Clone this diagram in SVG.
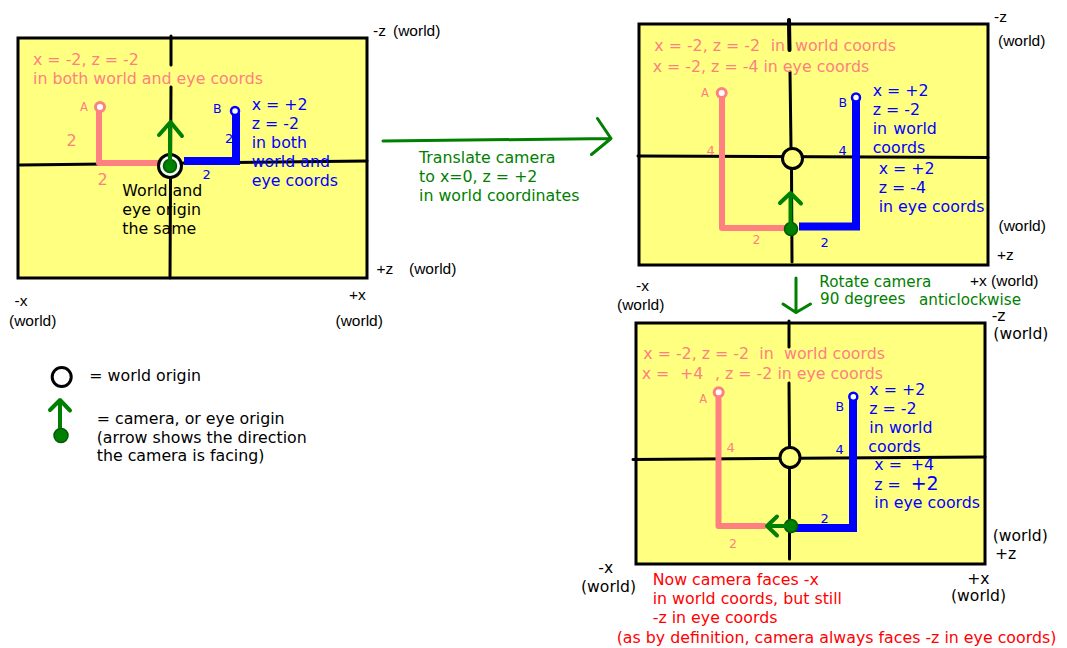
<svg xmlns="http://www.w3.org/2000/svg" width="1067" height="648" viewBox="0 0 1067 648">
<style>
.bg{fill:#ffffff}
.panel{fill:#ffff80;stroke:#000;stroke-width:3}
.axis{stroke:#000;stroke-width:3;fill:none;stroke-linecap:round}
.pinkL{fill:none;stroke:#ff8080;stroke-width:6;stroke-linejoin:round;stroke-linecap:round}
.blueL{fill:none;stroke:#0000ff;stroke-width:8;stroke-linejoin:miter;stroke-linecap:butt}
.ptA{fill:#ffffff;stroke:#ff8080;stroke-width:3}
.ptB{fill:#ffffff;stroke:#0000ff;stroke-width:2.5}
.orig{fill:#ffff80;stroke:#000;stroke-width:3}
.cam{fill:#008000;stroke:#005a00;stroke-width:1.5}
.garr{fill:none;stroke:#008000;stroke-width:4;stroke-linecap:round;stroke-linejoin:round}
.trans{fill:none;stroke:#008000;stroke-width:3;stroke-linecap:round;stroke-linejoin:round}
text{font-family:"DejaVu Sans","Liberation Sans",sans-serif;font-size:15.8px}
.pk{fill:#ff8080}
.bl{fill:#0000ff}
.gr{fill:#008000}
.rd{fill:#ff0000}
.bk{fill:#000}
.lw{font-family:"Liberation Sans",Arial,sans-serif;font-size:15.5px;fill:#000}
.dw{font-size:15.6px;fill:#000}
text.sA{font-size:11.5px}
text.sB{font-size:12.5px}
text.sN{font-size:13px}
text.s16{font-size:16px}
text.s19{font-size:19px}
text.rot{font-size:15.2px}
</style>
<rect class="bg" x="0" y="0" width="1067" height="648"/>

<g id="panel1">
  <rect class="panel" x="18" y="38" width="349" height="240"/>
  <path class="axis" d="M171,36 L171,65 M171,87 L170,278 M20,165 L367,161"/>
  <path class="pinkL" d="M99,109 V163 H166"/>
  <circle class="ptA" cx="100" cy="107" r="4.5"/>
  <path class="blueL" d="M236,113 V161 H184"/>
  <circle class="ptB" cx="235" cy="111" r="4"/>
  <circle cx="170" cy="166" r="11.5" fill="#f4fff4" stroke="#000" stroke-width="3"/>
  <circle class="cam" cx="170" cy="166" r="6.5"/>
  <path class="garr" d="M170,166 V123 M159,135 L170.5,122 L182,136"/>
  <text class="pk" x="33" y="65">x = -2, z = -2</text>
  <text class="pk" x="33" y="84">in both world and eye coords</text>
  <text class="pk sA" x="80" y="111">A</text>
  <text class="pk s16" x="66.5" y="146">2</text>
  <text class="pk s16" x="97.5" y="185">2</text>
  <text class="bl sB" x="213" y="113">B</text>
  <text class="bl sN" x="225" y="143">2</text>
  <text class="bl sN" x="202.5" y="179">2</text>
  <text class="bl" x="251.7" y="110">x = +2</text>
  <text class="bl" x="251.7" y="129">z = -2</text>
  <text class="bl" x="251.7" y="148">in both</text>
  <text class="bl" x="251.7" y="167">world and</text>
  <text class="bl" x="251.7" y="186">eye coords</text>
  <text class="bk" x="122.3" y="195.5">World and</text>
  <text class="bk" x="122.3" y="214.5">eye origin</text>
  <text class="bk" x="122.3" y="233.5">the same</text>
  <text class="lw" x="373" y="36">-z</text>
  <text class="lw" x="393" y="36">(world)</text>
  <text class="lw" x="376.5" y="274">+z</text>
  <text class="lw" x="409" y="274">(world)</text>
  <text class="lw" x="349" y="300">+x</text>
  <text class="lw" x="335.5" y="326">(world)</text>
  <text class="lw" x="14.5" y="306">-x</text>
  <text class="lw" x="9" y="326">(world)</text>
</g>

<g id="connectors">
  <path class="trans" d="M383,141 L611,138.5 M597.5,118.5 L611,138.5 L591.5,154.5"/>
  <path class="trans" d="M796,278 L796,312 M783,304 L796,312.5 L810.5,304"/>
</g>

<g id="label-translate">
  <text class="gr" x="419" y="163">Translate camera</text>
  <text class="gr" x="419" y="182">to x=0, z = +2</text>
  <text class="gr" x="419" y="201">in world coordinates</text>
</g>

<g id="label-rotate">
  <text class="gr rot" x="819.3" y="286.5">Rotate camera</text>
  <text class="gr rot" x="820" y="304">90 degrees</text>
  <text class="gr rot" x="919" y="304.5">anticlockwise</text>
</g>

<g id="panel2">
  <rect class="panel" x="639" y="24" width="349" height="241"/>
  <path class="axis" d="M789,20 L789.5,50 M790,72 L791,148 M791.5,169 L792,262 M638,156 L988,157.5"/>
  <path d="M789,20 L789.5,50" stroke="#000" stroke-width="4" stroke-linecap="round"/>
  <circle class="orig" cx="792.5" cy="158.5" r="10"/>
  <path class="pinkL" d="M722,95 V228 H790"/>
  <circle class="ptA" cx="721.7" cy="93" r="4.5"/>
  <path class="blueL" d="M856,99 V226.5 H799"/>
  <circle class="ptB" cx="856" cy="97.5" r="4"/>
  <circle class="cam" cx="791" cy="229" r="6.5"/>
  <path class="garr" d="M790.5,229 V194 M780,203 L790.5,193 L801,203.5"/>
  <text class="pk" x="654.3" y="51">x = -2, z = -2</text>
  <text class="pk" x="770.7" y="51">in</text>
  <text class="pk" x="795" y="51">world coords</text>
  <text class="pk" x="652.7" y="72">x = -2, z = -4 in eye coords</text>
  <text class="pk sA" x="701" y="97">A</text>
  <text class="pk sN" x="706.5" y="155">4</text>
  <text class="pk sB" x="752.5" y="244">2</text>
  <text class="bl sB" x="838.5" y="107">B</text>
  <text class="bl sN" x="838.5" y="155">4</text>
  <text class="bl sN" x="820.5" y="246.5">2</text>
  <text class="bl" x="872.7" y="96">x = +2</text>
  <text class="bl" x="872.7" y="115">z = -2</text>
  <text class="bl" x="872.7" y="134">in</text>
  <text class="bl" x="893.3" y="134">world</text>
  <text class="bl" x="872.7" y="152.5">coords</text>
  <text class="bl" x="878.7" y="174">x = +2</text>
  <text class="bl" x="878.7" y="193">z = -4</text>
  <text class="bl" x="878.7" y="212">in eye coords</text>
  <text class="lw" x="994" y="22">-z</text>
  <text class="lw" x="998" y="46">(world)</text>
  <text class="lw" x="998.5" y="231">(world)</text>
  <text class="lw" x="997" y="260">+z</text>
  <text class="lw" x="970" y="285.5">+x (world)</text>
  <text class="lw" x="636" y="291">-x</text>
  <text class="lw" x="617" y="309.5">(world)</text>
</g>

<g id="panel3">
  <rect class="panel" x="636" y="323" width="349" height="241"/>
  <path class="axis" d="M789,321 L789,347 M789,383 L789.5,447.5 M789.5,468 L789.5,559 M633,459.5 L985,457"/>
  <circle class="orig" cx="790" cy="457.5" r="10"/>
  <path class="pinkL" d="M718.5,394 V526 H764"/>
  <circle class="ptA" cx="718.7" cy="392.3" r="4.5"/>
  <path class="blueL" d="M853,399 V528 H790"/>
  <circle class="ptB" cx="853.3" cy="396.7" r="4"/>
  <circle class="cam" cx="791" cy="526" r="6.5"/>
  <path class="garr" d="M791,526 H768 M777,516.5 L767,526 L777,535.5"/>
  <text class="pk" x="643.3" y="358.5">x = -2, z = -2</text>
  <text class="pk" x="759.3" y="358.5">in</text>
  <text class="pk" x="784" y="358.5">world coords</text>
  <text class="pk" x="641.7" y="378.5">x =</text>
  <text class="pk" x="680" y="378.5">+4</text>
  <text class="pk" x="715" y="378.5">, z = -2 in eye coords</text>
  <text class="pk sA" x="699.3" y="403">A</text>
  <text class="pk sN" x="726.5" y="452">4</text>
  <text class="pk sB" x="729" y="547.5">2</text>
  <text class="bl sB" x="835.5" y="410.5">B</text>
  <text class="bl sN" x="835.5" y="454">4</text>
  <text class="bl sN" x="820.5" y="522.5">2</text>
  <text class="bl" x="869.3" y="395">x = +2</text>
  <text class="bl" x="869.3" y="414">z = -2</text>
  <text class="bl" x="869.3" y="433">in</text>
  <text class="bl" x="889" y="433">world</text>
  <text class="bl" x="868.3" y="451.5">coords</text>
  <text class="bl" x="874.3" y="470">x =</text>
  <text class="bl" x="910.7" y="470">+4</text>
  <text class="bl" x="874.3" y="489.5">z =</text>
  <text class="bl s19" x="910.7" y="490">+2</text>
  <text class="bl" x="874.3" y="507.5">in eye coords</text>
  <text class="dw" x="991.7" y="321">-z</text>
  <text class="dw" x="993.3" y="339">(world)</text>
  <text class="dw" x="992.7" y="540.5">(world)</text>
  <text class="dw" x="995" y="558.5">+z</text>
  <text class="dw" x="967.3" y="584">+x</text>
  <text class="dw" x="951" y="601">(world)</text>
  <text class="dw" x="598.3" y="573">-x</text>
  <text class="dw" x="581" y="592">(world)</text>
</g>

<g id="note">
  <text class="rd" x="652.7" y="585">Now camera faces -x</text>
  <text class="rd" x="652.7" y="604">in world coords, but still</text>
  <text class="rd" x="652.7" y="623">-z in eye coords</text>
  <text class="rd" x="616.7" y="643">(as by definition, camera always faces -z in eye coords)</text>
</g>

<g id="legend">
  <circle cx="61.7" cy="377" r="9.5" fill="#ffffff" stroke="#000" stroke-width="3"/>
  <text class="bk" x="89.3" y="380.5">= world origin</text>
  <path class="garr" d="M60,400 V428 M50,410 L60,400 L70,410.5"/>
  <circle class="cam" cx="61" cy="435.5" r="7"/>
  <text class="bk" x="96.7" y="424">= camera, or eye origin</text>
  <text class="bk" x="96.7" y="442.5">(arrow shows the direction</text>
  <text class="bk" x="96.7" y="461">the camera is facing)</text>
</g>
</svg>
